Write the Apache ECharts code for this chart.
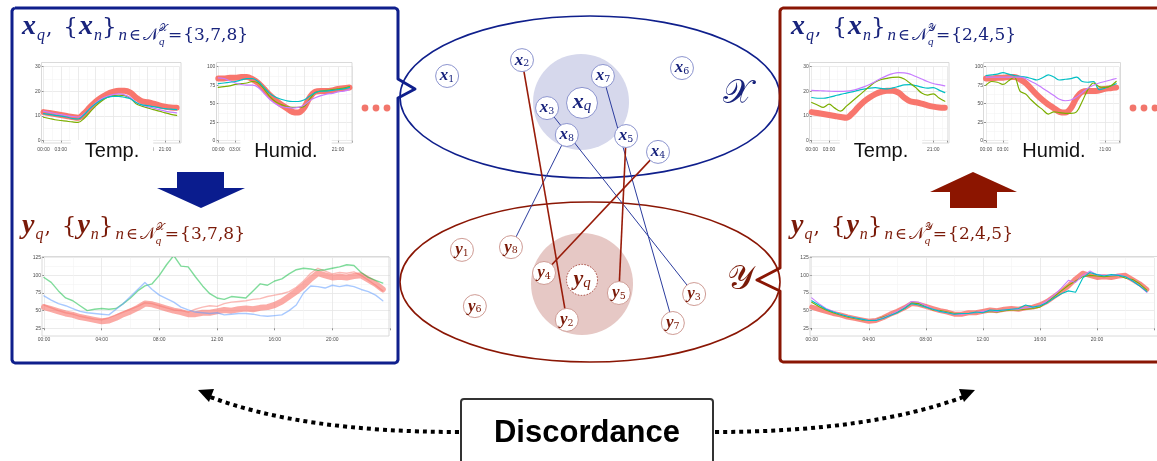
<!DOCTYPE html>
<html>
<head>
<meta charset="utf-8">
<script src="https://cdn.jsdelivr.net/npm/echarts@6/dist/echarts.min.js"></script>
<style>
  html, body { margin: 0; padding: 0; background: #fff; }
  #chart { width: 1157px; height: 461px; }
</style>
</head>
<body>
<div id="chart"></div>
<script>
// ---------- hourly sensor curves (Temp. / Humid.) ----------
const hours = [0,1,2,3,4,5,6,7,8,9,10,11,12,13,14,15,16,17,18,19,20,21,22,23];

// query sensor x_q
const tempQ  = [11.6,11.2,10.8,10.4,10.0,9.6,9.3,11.0,13.5,15.8,17.5,18.9,19.8,20.3,20.3,19.5,17.5,16.0,15.6,15.0,14.3,13.8,13.5,13.4];
const humidQ = [84,84,85,85,86,86,83,78,70,62,55,49,44,39,38,44,58,66,67,67,68,70,71,72];

// neighbours in X : {3,7,8}
const tempX_a  = [11.0,10.7,10.3,10.0,9.6,9.0,8.8,10.5,13.0,15.0,16.5,17.5,18.0,18.0,17.6,17.0,15.5,14.5,14.2,13.8,13.4,13.0,12.8,12.6];
const tempX_b  = [9.5,9.0,8.5,8.2,7.9,7.6,7.4,9.0,11.5,14.0,16.0,17.5,18.3,18.5,18.3,17.2,15.0,14.0,13.3,12.6,12.0,11.3,10.7,10.3];
const tempX_c  = [12.0,11.5,11.0,10.6,10.2,9.8,9.6,10.8,13.0,15.2,17.0,18.0,18.7,19.0,18.6,17.5,15.5,14.5,13.8,13.2,12.6,12.0,11.6,11.3];
const humidX_a = [77,78,79,80,82,84,84,80,72,64,59,56,54,53,53,55,60,65,67,67,68,69,70,72];
const humidX_b = [72,73,74,76,77,78,80,78,70,60,53,49,46,45,45,46,56,65,67,68,69,70,71,73];
const humidX_c = [85,84,81,78,76,75,75,72,64,56,50,46,45,44,45,48,54,58,61,63,64,66,67,69];

// neighbours in Y : {2,4,5}
const tempY_a  = [17.5,17.2,17.2,17.6,18.2,18.8,19.3,19.8,20.4,20.9,21.3,21.5,21.2,21.0,21.4,22.0,22.6,22.7,22.3,21.7,21.3,21.5,20.5,19.5];
const tempY_b  = [15.5,14.5,13.5,14.8,13.2,12.0,14.0,16.0,18.0,20.0,22.0,23.8,24.8,25.3,25.7,25.8,25.0,23.3,21.5,19.3,18.5,19.0,17.3,16.0];
const tempY_c  = [20.4,20.3,20.2,20.1,20.0,20.0,20.1,20.4,21.0,21.8,22.8,24.0,25.3,26.4,27.2,27.6,27.5,27.0,26.0,25.0,24.0,23.2,22.7,22.2];
const humidY_a = [88,89,90,92,90,88,87,86,84,82,85,89,86,82,83,84,86,80,79,80,69,71,74,77];
const humidY_b = [75,80,79,76,81,86,67,63,55,48,42,36,39,38,37,37,39,53,69,78,73,72,74,80];
const humidY_c = [86,86,86,86,86,86,86,84,80,76,71,66,61,56,54,55,59,65,71,75,78,80,82,84];

// ---------- half-hourly target curves ----------
const halfHours = [0,0.5,1,1.5,2,2.5,3,3.5,4,4.5,5,5.5,6,6.5,7,7.5,8,8.5,9,9.5,10,10.5,11,11.5,
                   12,12.5,13,13.5,14,14.5,15,15.5,16,16.5,17,17.5,18,18.5,19,19.5,20,20.5,21,21.5,22,22.5,23,23.5];

const targetQ = [55,52,49,46,44,41,39,37,35,36,40,45,49,54,60,59,56,53,50,48,45,45,47,47,
                 49,51,50,52,53,52,54,55,58,63,70,77,85,95,103,100,97,98,97,99,100,94,88,80];

// targets of X-neighbours
const targetX_green = [97,90,78,68,64,57,50,52,53,52,53,60,68,78,85,88,100,115,128,113,112,98,85,74,
                       68,66,70,69,68,78,88,86,92,95,102,108,110,109,107,108,110,112,115,114,104,97,93,89];
const targetX_blue  = [71,65,60,57,53,49,47,46,45,44,52,60,70,80,90,80,72,67,62,55,51,48,47,46,
                       47,44,45,46,46,45,43,42,43,44,50,58,75,85,84,82,86,84,86,84,80,77,72,64];
const targetX_pink  = [58,54,50,47,45,42,40,38,37,40,44,48,52,56,61,60,57,54,51,50,48,52,55,57,
                       56,60,62,63,64,66,67,70,72,74,77,83,92,103,110,106,102,104,103,105,100,93,86,78];

// targets of Y-neighbours
const targetY_green  = [62,56,51,47,44,41,39,37,36,37,41,44,48,53,61,60,56,51,50,48,46,46,46,47,
                        48,49,48,50,51,51,52,53,55,62,70,78,86,92,98,100,99,98,99,100,96,94,88,79];
const targetY_cyan   = [64,58,52,48,45,42,40,38,36,36,39,43,47,53,60,58,55,52,49,47,45,46,46,48,
                        47,51,50,51,52,53,58,55,57,61,68,74,78,76,96,104,101,99,101,100,98,92,85,77];
const targetY_purple = [68,60,53,49,45,42,40,38,36,37,40,44,49,55,63,62,57,52,49,47,45,45,46,47,
                        49,50,49,51,52,52,54,55,57,64,72,82,93,90,100,106,101,100,100,101,98,92,85,76];

// ---------- sensor graph nodes (diagram units 0..100) ----------
const xNodeIds = ['1','2','3','4','5','6','7','8','q'];
const xNodeU   = [12.4,32.1,38.7,67.9,59.5,74.2,53.4,43.9,47.9];
const xNodeV   = [17.1,12.5,26.4,39.1,34.5,14.8,17.1,34.2,24.9];
const yNodeIds = ['1','2','3','4','5','6','7','8','q'];
const yNodeU   = [16.3,43.9,77.4,37.9,57.6,19.7,71.8,29.2,47.9];
const yNodeV   = [67.5,87.8,80.3,74.2,80.0,83.8,88.7,66.7,76.2];
const neighboursInX = ['3','7','8'];
const neighboursInY = ['2','4','5'];

// ---------- styling ----------
const NAVY = '#0f1f8c';
const NAVY_TXT = '#18237c';
const DARKRED = '#8a1604';
const RED_TXT = '#7a1a08';
const C_RED = '#F8766D', C_GREEN = '#7CAE00', C_CYAN = '#00BFC4', C_PURPLE = '#C77CFF';
const BI = '"Liberation Serif", "DejaVu Serif", serif';      // bold-italic vector symbols
const ROMAN = '"DejaVu Serif", "Liberation Serif", serif';
const CAL = '"DejaVu Sans", "DejaVu Serif", "Noto Sans", sans-serif';
const SANS = '"Liberation Sans", Arial, sans-serif';

const pairs = (xs, ys) => xs.map((x, i) => [x, ys[i]]);
const hh = h => String(h).padStart(2, '0') + ':00';

// small ggplot-like panels
const panels = [
  { grid: { left: 43.5, top: 66.7, width: 136, height: 74 }, xMax: 23.5, xInt: 3, yMin: 0, yMax: 30, yInt: 10 },
  { grid: { left: 218.3, top: 66.7, width: 134, height: 74 }, xMax: 23.5, xInt: 3, yMin: 0, yMax: 100, yInt: 25 },
  { grid: { left: 811.7, top: 66.7, width: 136, height: 74 }, xMax: 23.5, xInt: 3, yMin: 0, yMax: 30, yInt: 10 },
  { grid: { left: 986, top: 66.7, width: 133, height: 74 }, xMax: 23.5, xInt: 3, yMin: 0, yMax: 100, yInt: 25 },
  { grid: { left: 44, top: 257.7, width: 346, height: 70.6 }, xMax: 24, xInt: 4, yMin: 25, yMax: 125, yInt: 25 },
  { grid: { left: 811.7, top: 257.7, width: 347, height: 70.6 }, xMax: 24, xInt: 4, yMin: 25, yMax: 125, yInt: 25 }
];

const grids = [], xAxes = [], yAxes = [];
panels.forEach((p, i) => {
  grids.push(Object.assign({ containLabel: false }, p.grid));
  const small = i < 4;
  xAxes.push({
    type: 'value', gridIndex: i, min: 0, max: p.xMax, interval: p.xInt,
    axisLine: { show: false },
    axisTick: { show: true, length: 2, lineStyle: { color: '#444', width: 0.6 } },
    axisLabel: {
      fontSize: 5, color: '#4d4d4d', fontFamily: SANS, margin: small ? 6 : 9,
      formatter: v => (Number.isInteger(v) && v % p.xInt === 0 && v < 24) ? hh(v) : ''
    },
    splitLine: { show: true, lineStyle: { color: '#e6e6e6', width: 0.8 } },
    minorTick: { show: false, splitNumber: 2 },
    minorSplitLine: { show: true, lineStyle: { color: '#f3f3f3', width: 0.6 } }
  });
  yAxes.push({
    type: 'value', gridIndex: i, min: p.yMin, max: p.yMax, interval: p.yInt,
    axisLine: { show: false },
    axisTick: { show: true, length: 2, lineStyle: { color: '#444', width: 0.6 } },
    axisLabel: { fontSize: 5, color: '#4d4d4d', fontFamily: SANS, margin: 3 },
    splitLine: { show: true, lineStyle: { color: '#e6e6e6', width: 0.8 } },
    minorTick: { show: false, splitNumber: 2 },
    minorSplitLine: { show: true, lineStyle: { color: '#f3f3f3', width: 0.6 } }
  });
});

// diagram coordinate system for the two sensor graphs
grids.push({ left: 400, top: 17, width: 380, height: 345 });
xAxes.push({ type: 'value', gridIndex: 6, min: 0, max: 100, show: false });
yAxes.push({ type: 'value', gridIndex: 6, min: 0, max: 100, inverse: true, show: false });

function line(gi, xs, ys, color, width, smooth, opacity) {
  return {
    type: 'line', xAxisIndex: gi, yAxisIndex: gi, data: pairs(xs, ys),
    showSymbol: false, smooth: smooth ? 0.35 : false, silent: true, clip: true,
    lineStyle: { color, width, opacity: opacity == null ? 1 : opacity, cap: 'round', join: 'round' },
    z: 3
  };
}

const series = [
  // X-neighbourhood: Temp / Humid
  line(0, hours, tempQ, C_RED, 6, true),
  line(0, hours, tempX_b, C_GREEN, 1.2, true),
  line(0, hours, tempX_c, C_PURPLE, 1.2, true),
  line(0, hours, tempX_a, C_CYAN, 1.2, true),
  line(1, hours, humidQ, C_RED, 6, true),
  line(1, hours, humidX_b, C_GREEN, 1.2, true),
  line(1, hours, humidX_c, C_PURPLE, 1.2, true),
  line(1, hours, humidX_a, C_CYAN, 1.2, true),
  // Y-neighbourhood: Temp / Humid
  line(2, hours, tempQ, C_RED, 6, true),
  line(2, hours, tempY_a, C_CYAN, 1.2, true),
  line(2, hours, tempY_b, C_GREEN, 1.2, true),
  line(2, hours, tempY_c, C_PURPLE, 1.2, true),
  line(3, hours, humidQ, C_RED, 6, true),
  line(3, hours, humidY_a, C_CYAN, 1.2, true),
  line(3, hours, humidY_b, C_GREEN, 1.2, true),
  line(3, hours, humidY_c, C_PURPLE, 1.2, true),
  // targets
  line(4, halfHours, targetQ, C_RED, 6, false, 0.62),
  line(4, halfHours, targetX_pink, C_RED, 1.4, false, 0.5),
  line(4, halfHours, targetX_green, '#00BA38', 1.4, false, 0.5),
  line(4, halfHours, targetX_blue, '#619CFF', 1.4, false, 0.55),
  line(5, halfHours, targetQ, C_RED, 5, false, 0.85),
  line(5, halfHours, targetY_green, C_GREEN, 1.1, false),
  line(5, halfHours, targetY_purple, C_PURPLE, 1.1, false),
  line(5, halfHours, targetY_cyan, C_CYAN, 1.1, false)
];

// node labels: bold italic symbol with subscript
function nodeRich(color, big) {
  return {
    v: { fontFamily: BI, fontWeight: 'bold', fontStyle: 'italic', fontSize: big ? 22 : 17,
         color, lineHeight: big ? 21 : 17, verticalAlign: 'bottom' },
    s: { fontFamily: ROMAN, fontStyle: 'normal', fontSize: big ? 12 : 9.5,
         color, lineHeight: big ? 12 : 10, verticalAlign: 'bottom' },
    si: { fontFamily: BI, fontStyle: 'italic', fontSize: big ? 15 : 10,
         color, lineHeight: big ? 12 : 10, verticalAlign: 'bottom' }
  };
}
const nodes = [];
xNodeIds.forEach((id, i) => {
  const q = id === 'q';
  nodes.push({
    name: 'x' + id, value: [xNodeU[i], xNodeV[i]], symbolSize: q ? 31 : 23,
    itemStyle: { color: '#fff', borderColor: '#8d95cf', borderWidth: 1 },
    label: { formatter: `{v|x}{${q ? 'si' : 's'}|${id}}`, rich: nodeRich(NAVY_TXT, q) }
  });
});
yNodeIds.forEach((id, i) => {
  const q = id === 'q';
  nodes.push({
    name: 'y' + id, value: [yNodeU[i], yNodeV[i]], symbolSize: q ? 31 : 23,
    itemStyle: q ? { color: '#fff', borderColor: '#a6453a', borderWidth: 1, borderType: [1.5, 1.5] }
                 : { color: '#fff', borderColor: '#cf9c95', borderWidth: 1 },
    label: { formatter: `{v|y}{${q ? 'si' : 's'}|${id}}`, rich: nodeRich(RED_TXT, q) }
  });
});
const links = [];
neighboursInX.forEach(id => links.push({ source: 'x' + id, target: 'y' + id, lineStyle: { color: '#2b3c9e', width: 1, opacity: 1 } }));
neighboursInY.forEach(id => links.push({ source: 'x' + id, target: 'y' + id, lineStyle: { color: '#981c0a', width: 1.6, opacity: 1 } }));

series.push({
  type: 'graph', coordinateSystem: 'cartesian2d', xAxisIndex: 6, yAxisIndex: 6,
  layout: 'none', roam: false, silent: true, z: 4,
  symbol: 'circle', data: nodes, links,
  label: { show: true, position: 'inside' },
  emphasis: { disabled: true }
});

const chart = echarts.init(document.getElementById('chart'), null, { renderer: 'canvas' });
chart.setOption({
  animation: false,
  backgroundColor: '#fff',
  grid: grids, xAxis: xAxes, yAxis: yAxes, series
});

// ---------- formulas ----------
const measureCtx = document.createElement('canvas').getContext('2d');
function formula(x0, base, color, parts) {
  const els = [];
  let x = x0, held = 0;
  parts.forEach(p => {
    const fam = p.f || ROMAN;
    const fw = p.b ? 'bold' : 'normal', fs = p.i ? 'italic' : 'normal';
    const font = `${fs} ${fw} ${p.s}px ${fam}`;
    measureCtx.font = font;
    const w = measureCtx.measureText(p.t).width;
    els.push({
      type: 'text', x, y: base + (p.dy || 0) - 0.34 * p.s, z: 30, silent: true,
      style: { text: p.t, fill: color, font, align: 'left', verticalAlign: 'middle' }
    });
    if (p.hold) { held = Math.max(held, w); }
    else { x += Math.max(w, held) + (p.gap || 0); held = 0; }
  });
  return els;
}
function setFormula(sym, spaceSym, setText) {
  return [
    { t: sym, s: 28, b: 1, i: 1, f: BI, gap: 1 },
    { t: 'q', s: 16, i: 1, f: BI, dy: 5, gap: 1 },
    { t: ',', s: 20, gap: 11 },
    { t: '{', s: 23, gap: 1 },
    { t: sym, s: 28, b: 1, i: 1, f: BI, gap: 1 },
    { t: 'n', s: 16, i: 1, f: BI, dy: 5 },
    { t: '}', s: 23, gap: 2 },
    { t: 'n', s: 17, i: 1, f: BI, dy: 5, gap: 2 },
    { t: '\u2208', s: 16, dy: 5, gap: 2 },
    { t: '\uD835\uDCA9', s: 17, dy: 5, f: CAL },
    { t: spaceSym, s: 10, dy: -4, f: CAL, hold: 1 },
    { t: 'q', s: 11, i: 1, f: BI, dy: 10 },
    { t: '=', s: 17, dy: 5, gap: 1 },
    { t: setText, s: 17, dy: 5 }
  ];
}
const SX = '\uD835\uDCB3', SY = '\uD835\uDCB4';

// ---------- decorations ----------
const xq = chart.convertToPixel({ xAxisIndex: 6, yAxisIndex: 6 }, [xNodeU[8], xNodeV[8]]);
const yq = chart.convertToPixel({ xAxisIndex: 6, yAxisIndex: 6 }, [yNodeU[8], yNodeV[8]]);

const panelRects = [
  [41.5, 62.5, 139.5, 80.5], [216.5, 62.5, 135.5, 80.5],
  [809.5, 62.5, 139.5, 80.5], [983.5, 62.5, 137, 80.5],
  [42, 256.5, 347, 79.5], [810, 256.5, 352, 79.5]
];

const g = [];
panelRects.forEach(r => g.push({
  type: 'rect', z: 1, silent: true,
  shape: { x: r[0], y: r[1], width: r[2], height: r[3] },
  style: { fill: 'none', stroke: '#d0d0d0', lineWidth: 0.8 }
}));

// neighbourhood discs and the two spaces
g.push({ type: 'circle', z: 0, silent: true, shape: { cx: xq[0] - 1, cy: xq[1] - 1, r: 48 }, style: { fill: '#d6d8ec' } });
g.push({ type: 'circle', z: 0, silent: true, shape: { cx: yq[0], cy: yq[1] + 4, r: 51 }, style: { fill: '#e6c8c5' } });
g.push({ type: 'ellipse', z: 0, silent: true, shape: { cx: 590, cy: 97, rx: 190, ry: 81 }, style: { fill: 'none', stroke: NAVY, lineWidth: 1.6 } });
g.push({ type: 'ellipse', z: 0, silent: true, shape: { cx: 590, cy: 282, rx: 190, ry: 80 }, style: { fill: 'none', stroke: DARKRED, lineWidth: 1.6 } });

// framing boxes with pointers
g.push({ type: 'polyline', z: 6, silent: true,
  shape: { points: [[15,8],[395,8],[397,9],[398,11],[398,79],[415,89],[398,98],[398,360],[397,362],[395,363],
                    [15,363],[13,362],[12,360],[12,11],[13,9],[15,8]] },
  style: { fill: 'none', stroke: NAVY, lineWidth: 3, lineJoin: 'round' } });
g.push({ type: 'polyline', z: 6, silent: true,
  shape: { points: [[1162,8],[783,8],[781,9],[780,11],[780,268],[757,280],[780,291],[780,359],[781,361],[783,362],[1162,362]] },
  style: { fill: 'none', stroke: DARKRED, lineWidth: 3, lineJoin: 'round' } });

// block arrows
g.push({ type: 'polygon', z: 6, silent: true,
  shape: { points: [[177,172],[224,172],[224,188],[245,188],[201,208],[157,188],[177,188]] },
  style: { fill: '#0a1c8e' } });
g.push({ type: 'polygon', z: 6, silent: true,
  shape: { points: [[973,172],[1017,192],[997,192],[997,208],[950,208],[950,192],[930,192]] },
  style: { fill: '#8c1500' } });

// space symbols
g.push({ type: 'text', z: 30, silent: true, x: 737, y: 94,
  style: { text: SX, fill: NAVY_TXT, font: 'normal normal 34px ' + CAL, align: 'center', verticalAlign: 'middle' } });
g.push({ type: 'text', z: 30, silent: true, x: 740, y: 280,
  style: { text: SY, fill: RED_TXT, font: 'normal normal 34px ' + CAL, align: 'center', verticalAlign: 'middle' } });

// variable names over the x-axis labels
[['Temp.', 112], ['Humid.', 286], ['Temp.', 881], ['Humid.', 1054]].forEach(([t, cx]) => g.push({
  type: 'text', z: 20, silent: true, x: cx, y: 151,
  style: { text: t, fill: '#111', fontSize: 20, fontFamily: SANS, align: 'center', verticalAlign: 'middle',
           backgroundColor: '#fff', padding: [1, 14, 1, 14] }
}));

// ellipsis dots
[365, 376, 387, 1133, 1144, 1155].forEach(cx => g.push({
  type: 'circle', z: 20, silent: true, shape: { cx, cy: 108, r: 3.4 }, style: { fill: '#f2766c' }
}));

// formulas
formula(22, 36, NAVY_TXT, setFormula('x', SX, '{3,7,8}')).forEach(e => g.push(e));
formula(22, 235, RED_TXT, setFormula('y', SX, '{3,7,8}')).forEach(e => g.push(e));
formula(791, 36, NAVY_TXT, setFormula('x', SY, '{2,4,5}')).forEach(e => g.push(e));
formula(791, 235, RED_TXT, setFormula('y', SY, '{2,4,5}')).forEach(e => g.push(e));

// discordance box and dotted arrows
g.push({ type: 'bezierCurve', z: 8, silent: true,
  shape: { x1: 459, y1: 432, cpx1: 300, cpy1: 432, x2: 208, y2: 396 },
  style: { fill: 'none', stroke: '#000', lineWidth: 4, lineDash: [4, 4] } });
g.push({ type: 'bezierCurve', z: 8, silent: true,
  shape: { x1: 715, y1: 432, cpx1: 870, cpy1: 432, x2: 966, y2: 396 },
  style: { fill: 'none', stroke: '#000', lineWidth: 4, lineDash: [4, 4] } });
g.push({ type: 'polygon', z: 8, silent: true, shape: { points: [[198,390],[214,389],[209,402]] }, style: { fill: '#000' } });
g.push({ type: 'polygon', z: 8, silent: true, shape: { points: [[975,390],[959,389],[964,402]] }, style: { fill: '#000' } });
g.push({ type: 'rect', z: 8, silent: true, shape: { x: 461, y: 399, width: 252, height: 72, r: 3 },
  style: { fill: '#fff', stroke: '#333', lineWidth: 2 } });
g.push({ type: 'text', z: 9, silent: true, x: 587, y: 433,
  style: { text: 'Discordance', fill: '#000', fontSize: 31, fontWeight: 'bold', fontFamily: SANS, align: 'center', verticalAlign: 'middle' } });

chart.setOption({ graphic: { elements: g } });
</script>
</body>
</html>
